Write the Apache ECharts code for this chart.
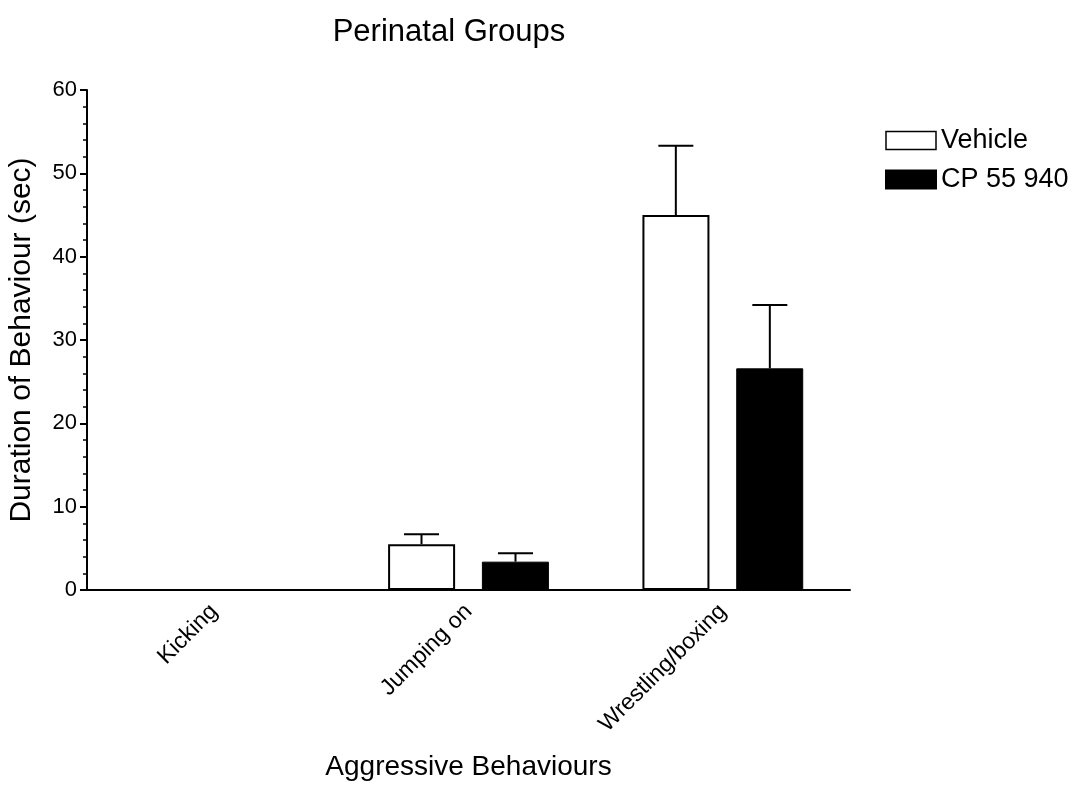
<!DOCTYPE html>
<html><head><meta charset="utf-8">
<script src="https://cdn.jsdelivr.net/npm/echarts@6/dist/echarts.min.js"></script>
<style>html,body{margin:0;padding:0;background:#fff;overflow:hidden}#c{width:1079px;height:786px}</style>
</head><body><div id="c"></div>
<script>
const categories = ['Kicking', 'Jumping on', 'Wrestling/boxing'];
const vehicle = [0, 5.5, 45.0];
const vehicleErr = [0, 1.2, 8.3];
const cp = [0, 3.4, 26.6];
const cpErr = [0, 1.0, 7.6];
const yTicks = [0, 10, 20, 30, 40, 50, 60];

const FONT = 'Liberation Sans, Arial, sans-serif';
const BAR_W = 67, OFFSET = 47, CAP = 35;

function errSeries(vals, errs, dir) {
  return {
    type: 'custom',
    data: vals.map((v, i) => [i, v, errs[i]]),
    z: 1,
    renderItem: function (params, api) {
      const v = api.value(1), e = api.value(2);
      if (!e) return null;
      const p0 = api.coord([api.value(0), v]);
      const p1 = api.coord([api.value(0), v + e]);
      const x = p0[0] + dir * OFFSET;
      const st = {stroke: '#000', lineWidth: 2};
      return {type: 'group', children: [
        {type: 'line', shape: {x1: x, y1: p0[1], x2: x, y2: p1[1]}, style: st},
        {type: 'line', shape: {x1: x - CAP / 2, y1: p1[1], x2: x + CAP / 2, y2: p1[1]}, style: st}
      ]};
    }
  };
}

const chart = echarts.init(document.getElementById('c'));
chart.setOption({
  animation: false,
  backgroundColor: '#fff',
  title: {text: 'Perinatal Groups', left: 444, top: 12, textAlign: 'center',
    textStyle: {fontFamily: FONT, fontSize: 31, fontWeight: 'normal', color: '#000'}},
  legend: {
    left: 885, top: 127, padding: 0, orient: 'vertical', itemWidth: 50, itemHeight: 18, itemGap: 12,
    icon: 'rect', align: 'left',
    textStyle: {fontFamily: FONT, fontSize: 27, color: '#000'},
    data: [{name: 'Vehicle', itemStyle: {color: '#fff', borderColor: '#000', borderWidth: 1.5}},
           {name: 'CP 55 940', itemStyle: {color: '#000'}}]
  },
  grid: {left: 87, width: 763, top: 90, height: 500, containLabel: false, outerBoundsMode: 'none'},
  xAxis: {
    type: 'category', data: categories,
    name: 'Aggressive Behaviours', nameLocation: 'middle', nameGap: 163,
    nameTextStyle: {fontFamily: FONT, fontSize: 28, color: '#000'},
    axisLine: {lineStyle: {color: '#000', width: 2}},
    axisTick: {show: false},
    axisLabel: {rotate: 45, fontFamily: FONT, fontSize: 23, color: '#000', margin: 18}
  },
  yAxis: {
    type: 'value', min: 0, max: 60, interval: 10,
    name: 'Duration of Behaviour (sec)', nameLocation: 'middle', nameGap: 50,
    nameTextStyle: {fontFamily: FONT, fontSize: 30, color: '#000'},
    axisLine: {show: true, lineStyle: {color: '#000', width: 2}},
    axisTick: {show: true, length: 7, lineStyle: {color: '#000', width: 2}},
    minorTick: {show: true, splitNumber: 5, length: 4, lineStyle: {color: '#000', width: 1.5}},
    splitLine: {show: false},
    axisLabel: {fontFamily: FONT, fontSize: 22, color: '#000', margin: 10,
      formatter: v => yTicks.includes(v) ? String(v) : ''}
  },
  series: [
    {name: 'Vehicle', type: 'bar', data: vehicle, barWidth: BAR_W, barGap: '40%',
      itemStyle: {color: '#fff', borderColor: '#000', borderWidth: 2}, z: 2},
    {name: 'CP 55 940', type: 'bar', data: cp, barWidth: BAR_W,
      itemStyle: {color: '#000', borderColor: '#000', borderWidth: 1}, z: 2},
    errSeries(vehicle, vehicleErr, -1),
    errSeries(cp, cpErr, 1)
  ]
});
</script></body></html>
